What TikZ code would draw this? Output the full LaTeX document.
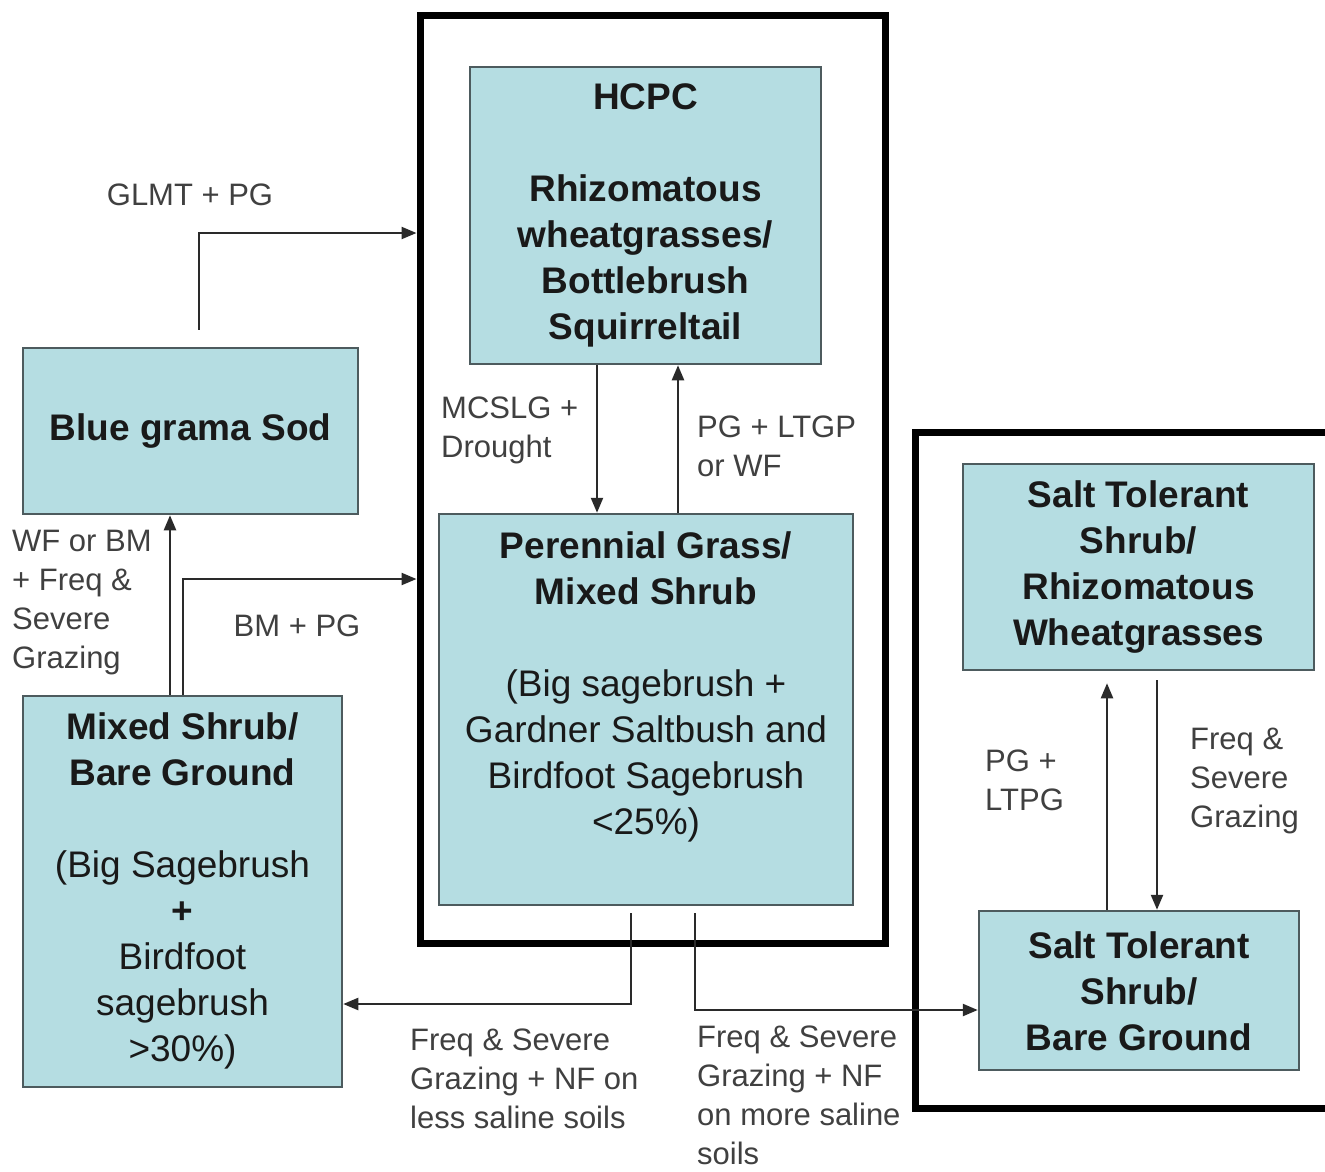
\documentclass[tikz,border=0pt]{standalone}
\usepackage{fontspec}
\setmainfont{Liberation Sans}
\usetikzlibrary{arrows.meta}
\definecolor{boxfill}{HTML}{B5DDE2}
\definecolor{boxline}{HTML}{4D5B5E}
\definecolor{lbl}{HTML}{404040}
\definecolor{conn}{HTML}{2A2A2A}
\tikzset{
  statebox/.style={draw=boxline, line width=2.5pt, fill=boxfill, inner sep=0pt},
  boxtext/.style={align=center, inner sep=0pt, text=black!90, font=\fontsize{37}{46}\selectfont\bfseries},
  framebox/.style={draw=black, line width=7pt, inner sep=0pt},
  lab/.style={align=left, inner sep=0pt, text=lbl, font=\fontsize{31}{39}\selectfont},
  conn/.style={draw=conn, line width=2.3pt},
  arr/.style={conn, -{Triangle[length=15pt,width=12pt]}},
}
\begin{document}
\begin{tikzpicture}[x=1pt,y=-1pt]
\useasboundingbox (0,0) rectangle (1325,1171);
\clip (0,0) rectangle (1325,1171);
\fill[white] (0,0) rectangle (1325,1171);

% frames
\node[framebox, minimum width=465, minimum height=928] (fA) at (652.5,479) {};
\node[framebox, minimum width=413, minimum height=676] (fB) at (1122,770) {};

% state boxes
\node[statebox, minimum width=351, minimum height=297] (hcpc) at (645.5,215.5) {};
\node[boxtext] (hcpct) at (645.5,215.5) {HCPC\\[46pt]Rhizomatous\\wheatgrasses/\\Bottlebrush\\Squirreltail};

\node[statebox, minimum width=335, minimum height=166] (bg) at (190.5,431) {};
\node[boxtext] (bgt) at (190.5,431) {Blue grama Sod};

\node[statebox, minimum width=414, minimum height=391] (pg) at (646,709.5) {};
\node[boxtext] (pgt) at (646,687) {Perennial Grass/\\Mixed Shrub\\[46pt]\mdseries(Big sagebrush +\\\mdseries Gardner Saltbush and\\\mdseries Birdfoot Sagebrush\\\mdseries <25\%)};

\node[statebox, minimum width=319, minimum height=391] (ms) at (182.5,891.5) {};
\node[boxtext] (mst) at (182.5,891) {Mixed Shrub/\\Bare Ground\\[46pt]\mdseries(Big Sagebrush\\+\\\mdseries Birdfoot\\\mdseries sagebrush\\\mdseries >30\%)};

\node[statebox, minimum width=351, minimum height=206] (sr) at (1138.5,567) {};
\node[boxtext] (srt) at (1138.5,567.5) {Salt Tolerant\\Shrub/\\Rhizomatous\\Wheatgrasses};

\node[statebox, minimum width=320, minimum height=159] (sb) at (1139,990.5) {};
\node[boxtext] (sbt) at (1139,991) {Salt Tolerant\\Shrub/\\Bare Ground};

% connectors
\draw[arr, shorten <=17pt] (bg.north -| 199,0) |- (fA.west |- 0,233);
\draw[arr] (hcpc.south -| 597,0) -- (pg.north -| 597,0);
\draw[arr] (pg.north -| 678,0) -- (hcpc.south -| 678,0);
\draw[arr] (ms.north -| 170,0) -- (bg.south -| 170,0);
\draw[arr] (ms.north -| 183,0) |- (fA.west |- 0,579);
\draw[arr, shorten <=7pt] (pg.south -| 631,0) |- (ms.east |- 0,1004);
\draw[arr, shorten <=7pt] (pg.south -| 695,0) |- (sb.west |- 0,1010);
\draw[arr, shorten >=12pt] (sb.north -| 1107,0) -- (sr.south -| 1107,0);
\draw[arr, shorten <=9pt] (sr.south -| 1157,0) -- (sb.north -| 1157,0);

% labels
\node[lab] (l1) at (190,195) {GLMT + PG};
\node[lab] (l2) at (297,626) {BM + PG};
\node[lab, anchor=west] (l3) at (441,430) {MCSLG +\\Drought};
\node[lab, anchor=west] (l4) at (697,446) {PG + LTGP\\or WF};
\node[lab, anchor=west] (l5) at (12,603) {WF or BM\\+ Freq \&\\Severe\\Grazing};
\node[lab, anchor=west] (l6) at (410,1079) {Freq \& Severe\\Grazing + NF on\\less saline soils};
\node[lab, anchor=west] (l7) at (697,1095) {Freq \& Severe\\Grazing + NF\\on more saline\\soils};
\node[lab, anchor=west] (l8) at (985,780) {PG +\\LTPG};
\node[lab, anchor=west] (l9) at (1190,781) {Freq \&\\Severe\\Grazing};
\end{tikzpicture}
\end{document}
